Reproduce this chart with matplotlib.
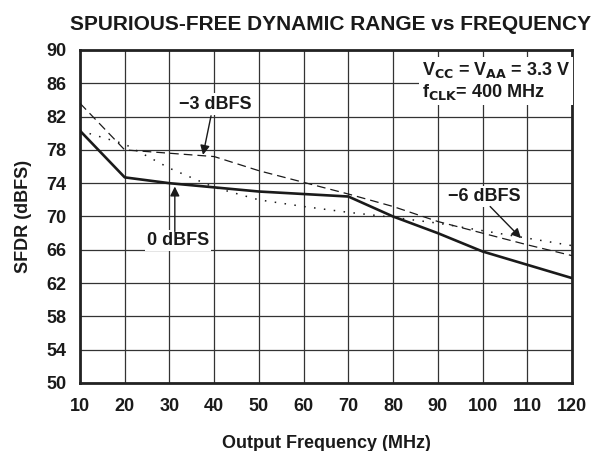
import numpy as np
import matplotlib
matplotlib.use('Agg')
import matplotlib.pyplot as plt

plt.rcParams['font.family'] = ['Liberation Sans', 'DejaVu Sans']
plt.rcParams['font.weight'] = 'bold'

# data
freq = [10, 20, 30, 40, 50, 60, 70, 80, 90, 100, 110, 120]
sfdr_0dbfs = [80.3, 74.7, 74.0, 73.5, 73.0, 72.7, 72.4, 70.0, 68.0, 65.8, 64.2, 62.6]
sfdr_3dbfs = [83.6, 78.0, 77.6, 77.2, 75.5, 74.1, 72.7, 71.2, 69.4, 68.0, 66.6, 65.3]
sfdr_6dbfs = [80.3, 78.7, 75.8, 73.5, 72.0, 71.2, 70.5, 69.9, 69.2, 68.3, 67.4, 66.5]
xticks = list(range(10, 121, 10))
yticks = list(range(50, 91, 4))

ink = '#1a1a1a'
fs = 13

fig = plt.figure(figsize=(6.05, 4.51), dpi=100)
ax = fig.add_axes([80/605, 1-383/451, 492/605, 333/451])

ax.plot(freq, sfdr_0dbfs, '-', color=ink, lw=1.9, zorder=4)
ax.plot(freq, sfdr_3dbfs, color=ink, lw=0.9, dashes=(7, 4), zorder=4)
ax.plot(freq, sfdr_6dbfs, color=ink, lw=1.1, dashes=(1, 5.5), zorder=4)

ax.set_xlim(10, 120)
ax.set_ylim(50, 90)
ax.set_xticks(xticks)
ax.set_yticks(yticks)
ax.grid(True, color='#333333', lw=0.9)
ax.set_axisbelow(True)
ax.tick_params(length=0, labelsize=fs, colors=ink)
ax.tick_params(axis='x', pad=11)
ax.tick_params(axis='y', pad=10)
for lab in ax.get_xticklabels() + ax.get_yticklabels():
    lab.set_fontweight('bold')
for s in ax.spines.values():
    s.set_linewidth(2.0)
    s.set_color('#222222')

ax.set_xlabel('Output Frequency (MHz)', fontsize=fs, fontweight='bold', labelpad=14, color=ink)
ax.set_ylabel('SFDR (dBFS)', fontsize=fs, fontweight='bold', labelpad=10, color=ink)
fig.text(0.547, 0.945, 'SPURIOUS-FREE DYNAMIC RANGE vs FREQUENCY', ha='center', va='center',
         fontsize=15, fontweight='bold', color=ink)

# annotations
arrow = dict(arrowstyle='-|>', color=ink, lw=1.0, mutation_scale=14, shrinkA=0, shrinkB=0)
box = dict(fc='white', ec='none', pad=1.5)
ax.text(40.2, 83.5, '\u22123 dBFS', fontsize=fs, fontweight='bold', ha='center', va='center',
        color=ink, bbox=box, zorder=5)
ax.annotate('', xy=(37.5, 77.4), xytext=(39.3, 82.1), arrowprops=arrow, zorder=5)

ax.text(31.9, 67.1, '0 dBFS', fontsize=fs, fontweight='bold', ha='center', va='center',
        color=ink, bbox=box, zorder=5)
ax.annotate('', xy=(31.2, 73.6), xytext=(31.2, 68.2), arrowprops=arrow, zorder=5)

ax.text(100.3, 72.4, '\u22126 dBFS', fontsize=fs, fontweight='bold', ha='center', va='center',
        color=ink, bbox=box, zorder=5)
ax.annotate('', xy=(108.6, 67.4), xytext=(101.7, 71.2), arrowprops=arrow, zorder=5)

ax.text(119.6, 88.8, r'V$_{\mathbf{CC}}$ = V$_{\mathbf{AA}}$ = 3.3 V' + '\n' + r'f$_{\mathbf{CLK}}$= 400 MHz',
        fontsize=fs, fontweight='bold', ha='right', va='top', multialignment='left',
        color=ink, linespacing=1.15, bbox=dict(fc='white', ec='none', pad=2), zorder=5)

plt.savefig('out.png', dpi=100)
